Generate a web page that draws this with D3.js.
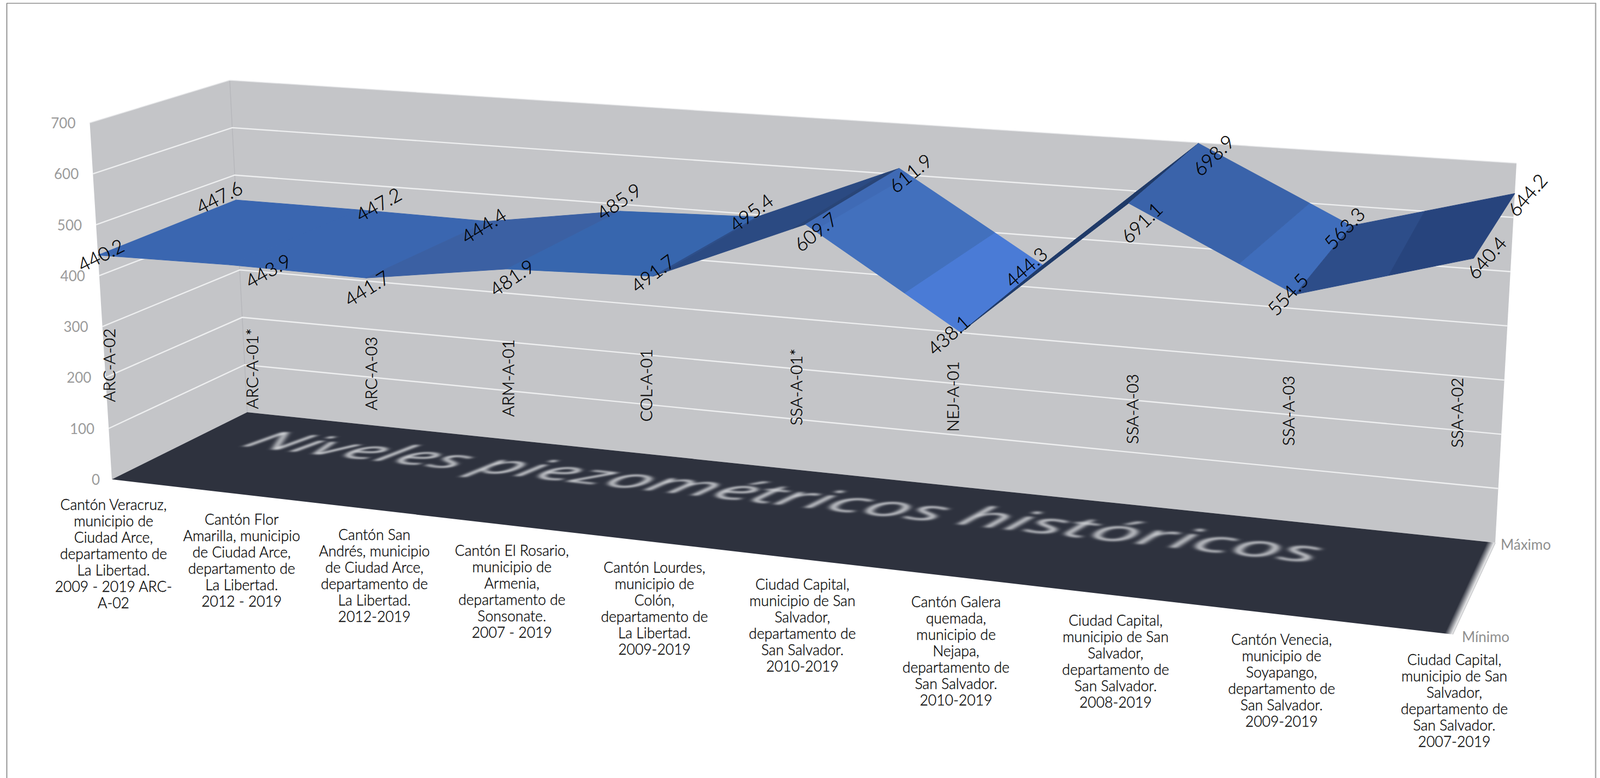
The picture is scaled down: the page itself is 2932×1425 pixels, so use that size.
<!DOCTYPE html>
<html lang="es">
<head>
<meta charset="utf-8">
<title>Niveles piezométricos históricos</title>
<script src="https://cdn.jsdelivr.net/npm/d3@7"></script>
<style>
html,body{margin:0;padding:0;background:#fff;width:2932px;height:1425px;overflow:hidden}
svg{position:absolute;left:0;top:0}
text{font-family:Lato,"Open Sans",sans-serif}
#floorTitle{position:absolute;left:0;top:0;transform-origin:0 0;height:200px;overflow:visible}
#floorTitle span{position:absolute;white-space:nowrap;font-family:"Open Sans",sans-serif;font-style:italic;font-size:66px;line-height:1;color:#cfd1d5;filter:blur(2px);word-spacing:-0.04em}
</style>
</head>
<body>
<script>
// ---- data ----
const stations = ["ARC-A-02","ARC-A-01*","ARC-A-03","ARM-A-01","COL-A-01","SSA-A-01*","NEJ-A-01","SSA-A-03","SSA-A-03","SSA-A-02"];
const minimo = [440.2,443.9,441.7,481.9,491.7,609.7,438.1,691.1,554.5,640.4];
const maximo = [447.6,447.2,444.4,485.9,495.4,611.9,444.3,698.9,563.3,644.2];
const yTicks = [0,100,200,300,400,500,600,700];
const seriesNames = ["Mínimo","Máximo"];
const titleText = "Niveles piezométricos históricos";
const places = [
 ["Cantón Veracruz,","municipio de","Ciudad Arce,","departamento de","La Libertad.","2009 - 2019 ARC-","A-02"],
 ["Cantón Flor","Amarilla, municipio","de Ciudad Arce,","departamento de","La Libertad.","2012 - 2019"],
 ["Cantón San","Andrés, municipio","de Ciudad Arce,","departamento de","La Libertad.","2012-2019"],
 ["Cantón El Rosario,","municipio de","Armenia,","departamento de","Sonsonate.","2007 - 2019"],
 ["Cantón Lourdes,","municipio de","Colón,","departamento de","La Libertad.","2009-2019"],
 ["Ciudad Capital,","municipio de San","Salvador,","departamento de","San Salvador.","2010-2019"],
 ["Cantón Galera","quemada,","municipio de","Nejapa,","departamento de","San Salvador.","2010-2019"],
 ["Ciudad Capital,","municipio de San","Salvador,","departamento de","San Salvador.","2008-2019"],
 ["Cantón Venecia,","municipio de","Soyapango,","departamento de","San Salvador.","2009-2019"],
 ["Ciudad Capital,","municipio de San","Salvador,","departamento de","San Salvador.","2007-2019"]
];

// ---- surface colour bands, one list per value band, one entry per segment ----
const bandEdges = [400,500,600,700];
const band400 = ["#3a66b0","#3a66b0","#3b60a3","#3766ae","#2e4f8a","#4a7bd6","#1f3a68","#3f6dbb","#2d4d89"];
const band500 = ["#3a66b0","#3a66b0","#3b60a3","#3766ae","#2b4a82","#4270bd","#1f3a68","#3f6dbb","#2d4d89"];
const band600 = ["#3a66b0","#3a66b0","#3b60a3","#3766ae","#294577","#3f6ab5","#1f3a68","#3a63aa","#27447d"];
const bandColors = [band400,band500,band600];

// ---- hand-placed label nudges of the reference, in pixels ----
const minNudge = [[5,-1],[70,10],[1,18],[9,15],[-1,-6],[18,13],[-23,4],[23,35],[-14,-1],[23,-2]];
const maxNudge = [[-31,-6],[33,-11],[-9,7],[-3,-19],[-11,-9],[20,8],[-31,3],[27,21],[-13,4],[22,2]];
const stationNudge = [[-6,-209],[21,-230],[-4,-249],[-5,-270],[-13,-287],[-9,-315],[-4,-330],[33,-341],[14,-373],[7,-406]];

// ---- the 3D box as seen on the page ----
const floorQuad = [[205,878],[2662,1162],[2740,994],[453,755]];   // front-left, front-right, back-right, back-left
const topQuad   = [[164.5,225],[2704,409],[2779,299],[421,147]];
const topWarp = 1.04;
function homography(q){
  const [[x0,y0],[x1,y1],[x2,y2],[x3,y3]] = q;
  const dx1=x1-x2,dx2=x3-x2,sx=x0-x1+x2-x3,dy1=y1-y2,dy2=y3-y2,sy=y0-y1+y2-y3;
  const den=dx1*dy2-dx2*dy1, g=(sx*dy2-dx2*sy)/den, h=(dx1*sy-sx*dy1)/den;
  return {a:x1-x0+g*x1,b:x3-x0+h*x3,c:x0,d:y1-y0+g*y1,e:y3-y0+h*y3,f:y0,g,h};
}
const applyH=(H,u,z)=>{const w=H.g*u+H.h*z+1;return [(H.a*u+H.b*z+H.c)/w,(H.d*u+H.e*z+H.f)/w];};
const HF=homography(floorQuad), HT=homography(topQuad);

const uScale=d3.scalePoint().domain(d3.range(stations.length)).range([0,1]);
const vScale=d3.scaleLinear().domain([0,700]).range([0,1]);
function project(u,z,val){
  const ut=topWarp*u/(1+(topWarp-1)*u);
  const p=applyH(HF,u,z), q=applyH(HT,ut,z), v=vScale(val);
  return [p[0]+(q[0]-p[0])*v, p[1]+(q[1]-p[1])*v];
}
const line=d3.line();

const svg=d3.select("body").append("svg").attr("width",2932).attr("height",1425);

// page frame
svg.append("line").attr("x1",12).attr("x2",2925).attr("y1",6).attr("y2",6).attr("stroke","#a9a9a9").attr("stroke-width",2);
svg.append("line").attr("x1",12.5).attr("x2",12.5).attr("y1",6).attr("y2",1425).attr("stroke","#777").attr("stroke-width",1.5);
svg.append("line").attr("x1",2924).attr("x2",2924).attr("y1",6).attr("y2",1425).attr("stroke","#a9a9a9").attr("stroke-width",2.5);

// walls
const wallFill="#c4c5c8";
svg.append("path").attr("fill",wallFill)
  .attr("d",line([project(0,0,0),project(0,0,700),project(0,1,700),project(0,1,0)])+"Z");
svg.append("path").attr("fill",wallFill)
  .attr("d",line([project(0,1,0),project(0,1,700),project(1,1,700),project(1,1,0)])+"Z");
svg.append("path").attr("d",line([project(0,1,0),project(0,1,700)])).attr("stroke","#b6b7bb").attr("stroke-width",1.5).attr("fill","none");

// gridlines
const gridG=svg.append("g").attr("fill","none").attr("stroke","#eeeff0").attr("stroke-width",2.4);
gridG.selectAll("path").data(yTicks.filter(t=>t>0&&t<700)).join("path")
  .attr("d",t=>line([project(0,0,t),project(0,1,t),project(1,1,t)]));
svg.append("path").attr("fill","none").attr("stroke","#e4e5e7").attr("stroke-width",1.5)
  .attr("d",line([project(0,0,700),project(0,1,700),project(1,1,700)]));

// floor, whose right edge fades out along the edge normal
const floorFill="#2e323e";
const defs=svg.append("defs");
const edgeA=project(1,1,0), edgeB=project(1,0,0);
const edgeLen=Math.hypot(edgeB[0]-edgeA[0],edgeB[1]-edgeA[1]);
const nx=(edgeA[1]-edgeB[1])/edgeLen, ny=(edgeB[0]-edgeA[0])/edgeLen, fadeWidth=14;
const grad=defs.append("linearGradient").attr("id","floorFade").attr("gradientUnits","userSpaceOnUse")
  .attr("x1",edgeA[0]+nx*fadeWidth).attr("y1",edgeA[1]+ny*fadeWidth).attr("x2",edgeA[0]).attr("y2",edgeA[1]);
grad.append("stop").attr("offset","0").attr("stop-color",floorFill);
grad.append("stop").attr("offset","1").attr("stop-color","#ffffff");
svg.append("path").attr("fill","url(#floorFade)")
  .attr("d",line([project(0,0,0),project(1,0,0),project(1,1,0),project(0,1,0)])+"Z");
svg.append("path").attr("fill","none").attr("stroke","#cfd0d2").attr("stroke-width",2)
  .attr("d",line([edgeA,edgeB]));

// surface: each segment between neighbouring stations, split by value band
function clip(poly,keep,cross){
  const out=[];
  poly.forEach((p,i)=>{
    const q=poly[(i+1)%poly.length], a=keep(p), b=keep(q);
    if(a) out.push(p);
    if(a!==b){const s=(cross-p.val)/(q.val-p.val);
      out.push({u:p.u+(q.u-p.u)*s,z:p.z+(q.z-p.z)*s,val:cross});}
  });
  return out;
}
const facets=[];
d3.range(stations.length-1).forEach(i=>{
  const u0=uScale(i),u1=uScale(i+1);
  const corners=[{u:u0,z:0,val:minimo[i]},{u:u1,z:0,val:minimo[i+1]},{u:u1,z:1,val:maximo[i+1]},{u:u0,z:1,val:maximo[i]}];
  bandColors.forEach((cols,b)=>{
    const lo=bandEdges[b],hi=bandEdges[b+1];
    let poly=clip(corners,p=>p.val>=lo,lo);
    if(poly.length) poly=clip(poly,p=>p.val<=hi,hi);
    if(poly.length>2) facets.push({poly,color:cols[i]});
  });
});
svg.append("g").selectAll("path").data(facets).join("path")
  .attr("fill",d=>d.color).attr("stroke",d=>d.color).attr("stroke-width",1).attr("stroke-linejoin","round")
  .attr("d",d=>line(d.poly.map(p=>project(p.u,p.z,p.val)))+"Z");

// value axis labels
svg.append("g").selectAll("text").data(yTicks).join("text")
  .attr("x",t=>project(0,0,t)[0]-(t===0?22:26)).attr("y",t=>project(0,0,t)[1])
  .attr("text-anchor","end").attr("dominant-baseline","central")
  .attr("font-size",26).attr("fill","#9b9b9b").text(t=>t);

// series labels
svg.append("text").attr("x",project(1,0,0)[0]+17).attr("y",project(1,0,0)[1]+4)
  .attr("dominant-baseline","central").attr("font-size",26).attr("fill","#8f8f8f").text(seriesNames[0]);
svg.append("text").attr("x",project(1,1,0)[0]+10).attr("y",project(1,1,0)[1]+3)
  .attr("dominant-baseline","central").attr("font-size",26).attr("fill","#8f8f8f").text(seriesNames[1]);

// station codes standing against the wall
svg.append("g").selectAll("text").data(stations).join("text")
  .attr("transform",(d,i)=>{const p=project(uScale(i),0,0);
     return `translate(${p[0]+stationNudge[i][0]},${p[1]+stationNudge[i][1]}) rotate(-90)`;})
  .attr("text-anchor","middle").attr("dominant-baseline","central")
  .attr("font-size",30).attr("font-weight",300).attr("fill","#000").attr("stroke","#000").attr("stroke-width",0.45).text(d=>d);

// place captions under the front edge
const capG=svg.append("g").attr("font-size",26.5).attr("font-weight",300).attr("fill","#000").attr("stroke","#000").attr("stroke-width",0.35).attr("text-anchor","middle");
places.forEach((ls,i)=>{
  const p=project(uScale(i),0,0);
  capG.append("text").selectAll("tspan").data(ls).join("tspan")
    .attr("x",p[0]+3).attr("y",(d,k)=>p[1]+46+k*30).attr("dominant-baseline","central").text(d=>d);
});

// value labels
const labelAngle=d3.scaleLinear().domain([0,1]).range([-27,-49]);
function valueLabels(vals,z,nudge){
  svg.append("g").selectAll("text").data(vals).join("text")
    .attr("transform",(d,i)=>{const u=uScale(i),p=project(u,z,d);
      return `translate(${p[0]+nudge[i][0]},${p[1]+nudge[i][1]}) rotate(${labelAngle(u)})`;})
    .attr("text-anchor","middle").attr("dominant-baseline","central")
    .attr("font-size",35).attr("font-weight",300).attr("fill","#000").attr("stroke","#000").attr("stroke-width",0.4).text(d=>d.toFixed(1));
}
valueLabels(minimo,0,minNudge);
valueLabels(maximo,1,maxNudge);

// title lying on the floor, real text projected with a CSS matrix
const titleU=[0.045,0.89], titleBaseZ=0.56, boxH=200;
const box=d3.select("body").append("div").attr("id","floorTitle");
const span=box.append("span").text(titleText).style("top",((1-titleBaseZ)*boxH-59)+"px");
const textW=span.node().getBoundingClientRect().width;
const W=textW/(titleU[1]-titleU[0]);
span.style("left",(titleU[0]*W)+"px");
box.style("width",W+"px");
const H=HF;
box.style("transform",`matrix3d(${H.a/W},${H.d/W},0,${H.g/W},${-H.b/boxH},${-H.e/boxH},0,${-H.h/boxH},0,0,1,0,${H.b+H.c},${H.e+H.f},0,${H.h+1})`);
</script>
</body>
</html>
